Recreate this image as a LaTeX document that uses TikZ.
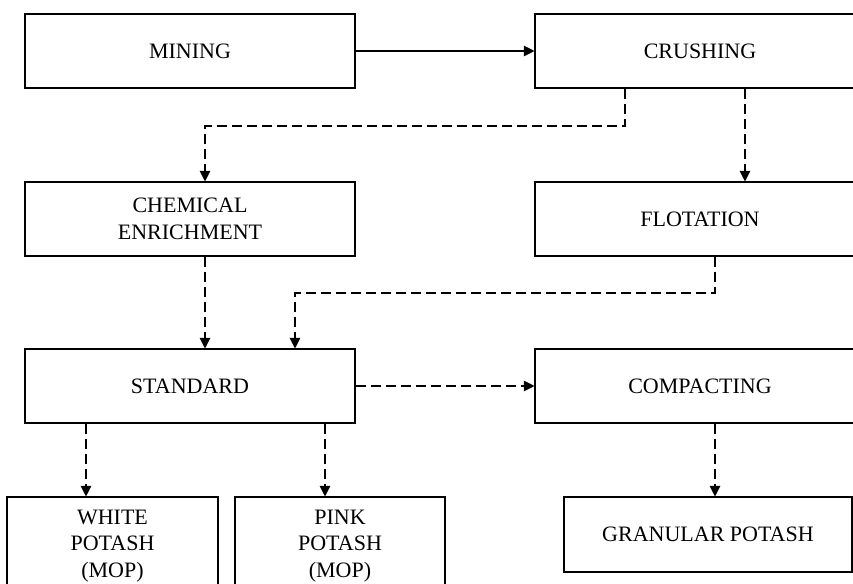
\documentclass[tikz,border=0pt]{standalone}
\usepackage{fontspec}
\setmainfont{Liberation Serif}
\usetikzlibrary{arrows.meta,calc}
\begin{document}
\begin{tikzpicture}[x=0.75pt,y=-0.75pt,
  box/.style={draw=black,line width=0.8pt,rectangle,align=center,inner sep=0pt,
    font=\fontsize{16.5pt}{20pt}\selectfont},
  solidarr/.style={line width=0.8pt,-{Triangle[length=8pt,width=8pt]}},
  dasharr/.style={line width=0.8pt,dash pattern=on 7.5pt off 3.75pt,-{Triangle[length=8pt,width=8pt]}},
  dashline/.style={line width=0.8pt,dash pattern=on 7.5pt off 3.75pt}]
\useasboundingbox (0,0) rectangle (853,584);
\clip (0,0) rectangle (853,584);
\node[box,minimum width=247.5pt,minimum height=55.5pt] (mining) at (190,51) {MINING};
\node[box,minimum width=247.5pt,minimum height=55.5pt] (crush) at (700,51) {CRUSHING};
\node[box,minimum width=247.5pt,minimum height=55.5pt] (chem) at (190,219) {CHEMICAL\\ENRICHMENT};
\node[box,minimum width=247.5pt,minimum height=55.5pt] (flot) at (700,219) {FLOTATION};
\node[box,minimum width=247.5pt,minimum height=55.5pt] (std) at (190,386) {STANDARD};
\node[box,minimum width=247.5pt,minimum height=55.5pt] (comp) at (700,386) {COMPACTING};
\node[box,minimum width=158.25pt,minimum height=73.5pt] (white) at (112.5,546) {WHITE\\POTASH\\(MOP)};
\node[box,minimum width=157.5pt,minimum height=73.5pt] (pink) at (340,546) {PINK\\POTASH\\(MOP)};
\node[box,minimum width=216pt,minimum height=56.25pt] (gran) at (708,534.5) {GRANULAR POTASH};
% coordinates for bends
\coordinate (c1) at (625,126);
\coordinate (c2) at (205,126);
\coordinate (c3) at (745,0);
\coordinate (c4) at (715,293);
\coordinate (c5) at (295,293);
\coordinate (c6) at (86,0);
\coordinate (c7) at (325,0);
\coordinate (c8) at (715,0);
\draw[solidarr] (mining.east) -- (crush.west);
\draw[dasharr] (crush.south -| c1) -- (c1) -- (c2) -- (chem.north -| c2);
\draw[dasharr] (crush.south -| c3) -- (flot.north -| c3);
\draw[dasharr] (chem.south -| c2) -- (std.north -| c2);
\draw[dasharr] (flot.south -| c4) -- (c4) -- (c5) -- (std.north -| c5);
\draw[dasharr] (std.east) -- (comp.west);
\draw[dasharr] (std.south -| c6) -- (white.north -| c6);
\draw[dasharr] (std.south -| c7) -- (pink.north -| c7);
\draw[dasharr] (comp.south -| c8) -- (gran.north -| c8);
\end{tikzpicture}
\end{document}
